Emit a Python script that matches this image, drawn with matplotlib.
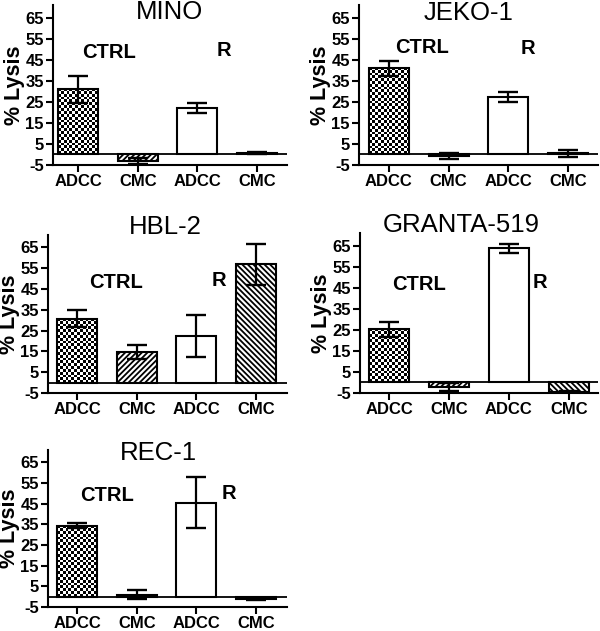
import numpy as np
import matplotlib
matplotlib.use("Agg")
import matplotlib.pyplot as plt

plt.rcParams['font.family'] = ['Liberation Sans', 'DejaVu Sans']
plt.rcParams['hatch.linewidth'] = 1.3

categories = ["ADCC", "CMC", "ADCC", "CMC"]
yticks = [-5, 5, 15, 25, 35, 45, 55, 65]

titles = ["MINO", "JEKO-1", "HBL-2", "GRANTA-519", "REC-1"]
values = {
    "MINO":       [31.0, -3.0, 22.2, 0.7],
    "JEKO-1":     [41.0, -0.6, 27.4, 0.6],
    "HBL-2":      [30.8, 14.6, 22.3, 56.9],
    "GRANTA-519": [25.3, -2.2, 63.7, -4.3],
    "REC-1":      [34.4, 1.0, 45.5, -1.3],
}
errors = {
    "MINO":       [6.5, 1.3, 2.3, 0.5],
    "JEKO-1":     [3.5, 1.4, 2.3, 1.7],
    "HBL-2":      [3.9, 3.4, 10.2, 10.0],
    "GRANTA-519": [3.5, 2.0, 2.2, 0.3],
    "REC-1":      [1.2, 2.1, 12.2, 0.4],
}

W, H = 600, 631
fig = plt.figure(figsize=(W / 100, H / 100), dpi=100)

# pixel boxes: left, right, top, bottom ; xlim ; title, CTRL, R positions
layout = {
    "MINO":       ((53, 287, 5, 165), (-0.42, 3.5), (1.53, 64.4), (0.52, 45.8), (2.45, 47.0)),
    "JEKO-1":     ((359, 598, 5, 165), (-0.5, 3.5), (1.33, 64.0), (0.56, 48.0), (2.33, 47.5)),
    "HBL-2":      ((48, 287, 235, 393), (-0.49, 3.52), (1.48, 71.3), (0.65, 45.3), (2.37, 46.3)),
    "GRANTA-519": ((360, 598, 233, 393), (-0.49, 3.49), (1.21, 71.5), (0.49, 44.0), (2.52, 45.0)),
    "REC-1":      ((48, 287, 450, 607), (-0.49, 3.52), (1.37, 66.0), (0.50, 46.5), (2.55, 47.5)),
}

hatches = [None, '//////', None, '\\\\\\\\\\\\']
sq = 2.8  # checker square size in px

for name in titles:
    (l, r, t, b), xl, tpos, cpos, rpos = layout[name]
    ax = fig.add_axes([l / W, 1 - b / H, (r - l) / W, (b - t) / H])
    ax.set_xlim(*xl)
    ax.set_ylim(-5, 71)
    x = np.arange(len(categories))
    vals = values[name]
    errs = errors[name]
    bars = ax.bar(x, vals, width=0.67, facecolor='white', edgecolor='black',
                  linewidth=1.5, zorder=3)
    for i, bar in enumerate(bars):
        if hatches[i]:
            bar.set_hatch(hatches[i])
        if i == 0:
            bar.set_facecolor('none')
            x0, y0 = bar.get_x(), min(0, bar.get_height())
            x1, y1 = x0 + bar.get_width(), max(0, bar.get_height())
            p0 = ax.transData.transform((x0, y0))
            p1 = ax.transData.transform((x1, y1))
            nx = max(1, int(round(abs(p1[0] - p0[0]) / sq)))
            ny = max(1, int(round(abs(p1[1] - p0[1]) / sq)))
            checker = np.indices((ny, nx)).sum(axis=0) % 2
            im = ax.imshow(checker, cmap='gray', extent=(x0, x1, y0, y1),
                           aspect='auto', interpolation='nearest', zorder=2,
                           origin='lower')
            im.set_clip_path(bar)
    ax.errorbar(x, vals, yerr=errs, fmt='none', ecolor='black', elinewidth=1.6,
                capsize=7, capthick=1.7, zorder=4)
    ax.axhline(0, color='black', linewidth=1.3, zorder=3.5)
    ax.set_xlim(*xl)
    ax.set_ylim(-5, 71)

    for s in ['top', 'right']:
        ax.spines[s].set_visible(False)
    for s in ['left', 'bottom']:
        ax.spines[s].set_linewidth(1.5)
    ax.set_yticks(yticks)
    ax.set_yticklabels([str(v) for v in yticks], fontweight='bold', fontsize=12)
    ax.set_xticks(x)
    ax.set_xticklabels(categories, fontweight='bold', fontsize=12)
    ax.tick_params(axis='both', direction='out', length=5, width=1.5, pad=1.5)
    ax.set_ylabel('% Lysis', fontweight='bold', fontsize=15.5, labelpad=0)

    ax.text(tpos[0], tpos[1], name, fontsize=18.5, ha='center', va='baseline',
            clip_on=False)
    ax.text(cpos[0], cpos[1], 'CTRL', fontsize=14.5, fontweight='bold',
            ha='center', va='baseline')
    ax.text(rpos[0], rpos[1], 'R', fontsize=14.5, fontweight='bold',
            ha='center', va='baseline')

fig.savefig('out.png', dpi=100)
